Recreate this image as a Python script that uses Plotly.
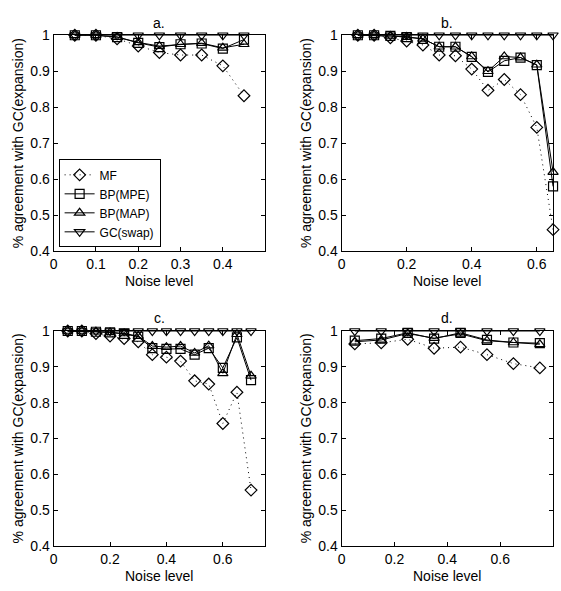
import plotly.graph_objects as go

W, H = 561, 591

# ---------------- data ----------------
xa = [0.05, 0.10, 0.15, 0.20, 0.25, 0.30, 0.35, 0.40, 0.45]
a_mf  = [1.0, 1.0, 0.990, 0.970, 0.952, 0.945, 0.945, 0.915, 0.832]
a_mpe = [1.0, 1.0, 0.995, 0.979, 0.967, 0.975, 0.977, 0.963, 0.988]
a_map = [1.0, 1.0, 0.995, 0.980, 0.970, 0.975, 0.978, 0.965, 0.975]
a_gc  = [1.0] * 9

xb = [0.05, 0.10, 0.15, 0.20, 0.25, 0.30, 0.35, 0.40, 0.45, 0.50, 0.55, 0.60, 0.65]
b_mf  = [1.0, 1.0, 0.993, 0.984, 0.973, 0.945, 0.943, 0.906, 0.847, 0.877, 0.835, 0.744, 0.46]
b_mpe = [1.0, 1.0, 0.998, 0.995, 0.990, 0.968, 0.968, 0.940, 0.898, 0.929, 0.938, 0.917, 0.58]
b_map = [1.0, 1.0, 0.998, 0.995, 0.990, 0.968, 0.968, 0.941, 0.900, 0.941, 0.938, 0.918, 0.62]
b_gc  = [1.0] * 13

xc = [0.05, 0.10, 0.15, 0.20, 0.25, 0.30, 0.35, 0.40, 0.45, 0.50, 0.55, 0.60, 0.65, 0.70]
c_mf  = [1.0, 1.0, 0.993, 0.986, 0.979, 0.970, 0.934, 0.927, 0.916, 0.861, 0.852, 0.742, 0.829, 0.556]
c_mpe = [1.0, 1.0, 0.998, 0.996, 0.992, 0.984, 0.952, 0.950, 0.950, 0.934, 0.952, 0.897, 0.982, 0.863]
c_map = [1.0, 1.0, 0.998, 0.996, 0.993, 0.986, 0.958, 0.955, 0.958, 0.939, 0.959, 0.882, 0.991, 0.875]
c_gc  = [1.0] * 14

xd = [0.05, 0.15, 0.25, 0.35, 0.45, 0.55, 0.65, 0.75]
d_mf  = [0.964, 0.967, 0.977, 0.952, 0.955, 0.934, 0.909, 0.897]
d_mpe = [0.973, 0.979, 0.995, 0.979, 0.995, 0.975, 0.968, 0.966]
d_map = [0.970, 0.975, 0.993, 0.980, 0.992, 0.973, 0.968, 0.963]
d_gc  = [1.0] * 8

series_names = ["MF", "BP(MPE)", "BP(MAP)", "GC(swap)"]
panel_titles = ["a.", "b.", "c.", "d."]
y_ticks = [0.4, 0.5, 0.6, 0.7, 0.8, 0.9, 1.0]
y_ticktext = ["0.4", "0.5", "0.6", "0.7", "0.8", "0.9", "1"]
x_ticks = {
    "a": [0, 0.1, 0.2, 0.3, 0.4],
    "b": [0, 0.2, 0.4, 0.6],
    "c": [0, 0.2, 0.4, 0.6],
    "d": [0, 0.2, 0.4, 0.6, 0.8],
}
x_ranges = {"a": [0, 0.5], "b": [0, 0.65], "c": [0, 0.75], "d": [0, 0.8]}
x_label = "Noise level"
y_label = "% agreement with GC(expansion)"

panels = {
    "a": (xa, [a_mf, a_mpe, a_map, a_gc]),
    "b": (xb, [b_mf, b_mpe, b_map, b_gc]),
    "c": (xc, [c_mf, c_mpe, c_map, c_gc]),
    "d": (xd, [d_mf, d_mpe, d_map, d_gc]),
}

# ---------------- layout geometry (pixels) ----------------
boxes = {
    "a": (50, 263, 28, 250),
    "b": (340, 553, 28, 250),
    "c": (50, 263, 332, 553),
    "d": (340, 553, 332, 553),
}

def fx(px):
    return px / W

def fy(py):
    return 1 - py / H

symbols = ["diamond-open", "square-open", "triangle-up-open", "triangle-down-open"]
dashes = ["1px,4px", "solid", "solid", "solid"]
FONT = "Liberation Sans, Arial, Helvetica, sans-serif"

fig = go.Figure()
layout = dict(
    width=W, height=H, autosize=False,
    margin=dict(l=0, r=0, t=0, b=0),
    paper_bgcolor="white", plot_bgcolor="white",
    font=dict(family=FONT, size=14, color="black"),
    showlegend=True,
    legend=dict(
        x=fx(55), y=fy(246), xanchor="left", yanchor="bottom",
        bgcolor="white", bordercolor="black", borderwidth=1,
        font=dict(size=12, family=FONT), tracegroupgap=0,
        itemwidth=30,
    ),
)
annotations = []

for i, key in enumerate(["a", "b", "c", "d"]):
    xs, ys_list = panels[key]
    n = "" if i == 0 else str(i + 1)
    l, r, t, b = boxes[key]
    for j, ys in enumerate(ys_list):
        fig.add_trace(go.Scatter(
            x=xs, y=ys, mode="lines+markers", name=series_names[j],
            xaxis="x" + n, yaxis="y" + n,
            showlegend=(i == 0),
            line=dict(color="black", width=1, dash=dashes[j]),
            marker=dict(symbol=symbols[j], size=9, color="black",
                        line=dict(width=1.2, color="black")),
            cliponaxis=False,
        ))
    axcommon = dict(showgrid=False, zeroline=False, showline=True, mirror="ticks",
                    linecolor="black", linewidth=1, ticks="inside", ticklen=4,
                    tickcolor="black", tickfont=dict(size=14, family=FONT))
    layout["xaxis" + n] = dict(domain=[fx(l), fx(r)], range=x_ranges[key],
                               tickvals=x_ticks[key],
                               ticktext=[("0" if v == 0 else f"{v:g}") for v in x_ticks[key]],
                               anchor="y" + n, **axcommon)
    layout["yaxis" + n] = dict(domain=[fy(b), fy(t)], range=[0.4, 1.0],
                               tickvals=y_ticks, ticktext=y_ticktext,
                               anchor="x" + n, **axcommon)
    cx = (l + r) / 2
    annotations.append(dict(text=panel_titles[i], x=fx(cx), y=fy(t - 13), xref="paper", yref="paper",
                            showarrow=False, font=dict(size=14), xanchor="center", yanchor="middle"))
    annotations.append(dict(text=x_label, x=fx(cx), y=fy(b + 31), xref="paper", yref="paper",
                            showarrow=False, font=dict(size=14), xanchor="center", yanchor="middle"))
    annotations.append(dict(text=y_label, x=fx(l - 36), y=fy((t + b) / 2), xref="paper", yref="paper",
                            showarrow=False, font=dict(size=14), textangle=-90,
                            xanchor="center", yanchor="middle"))

layout["annotations"] = annotations
fig.update_layout(**layout)
fig.write_html("out.html",
               post_script="document.body.style.margin='0';document.body.style.overflow='hidden';")
